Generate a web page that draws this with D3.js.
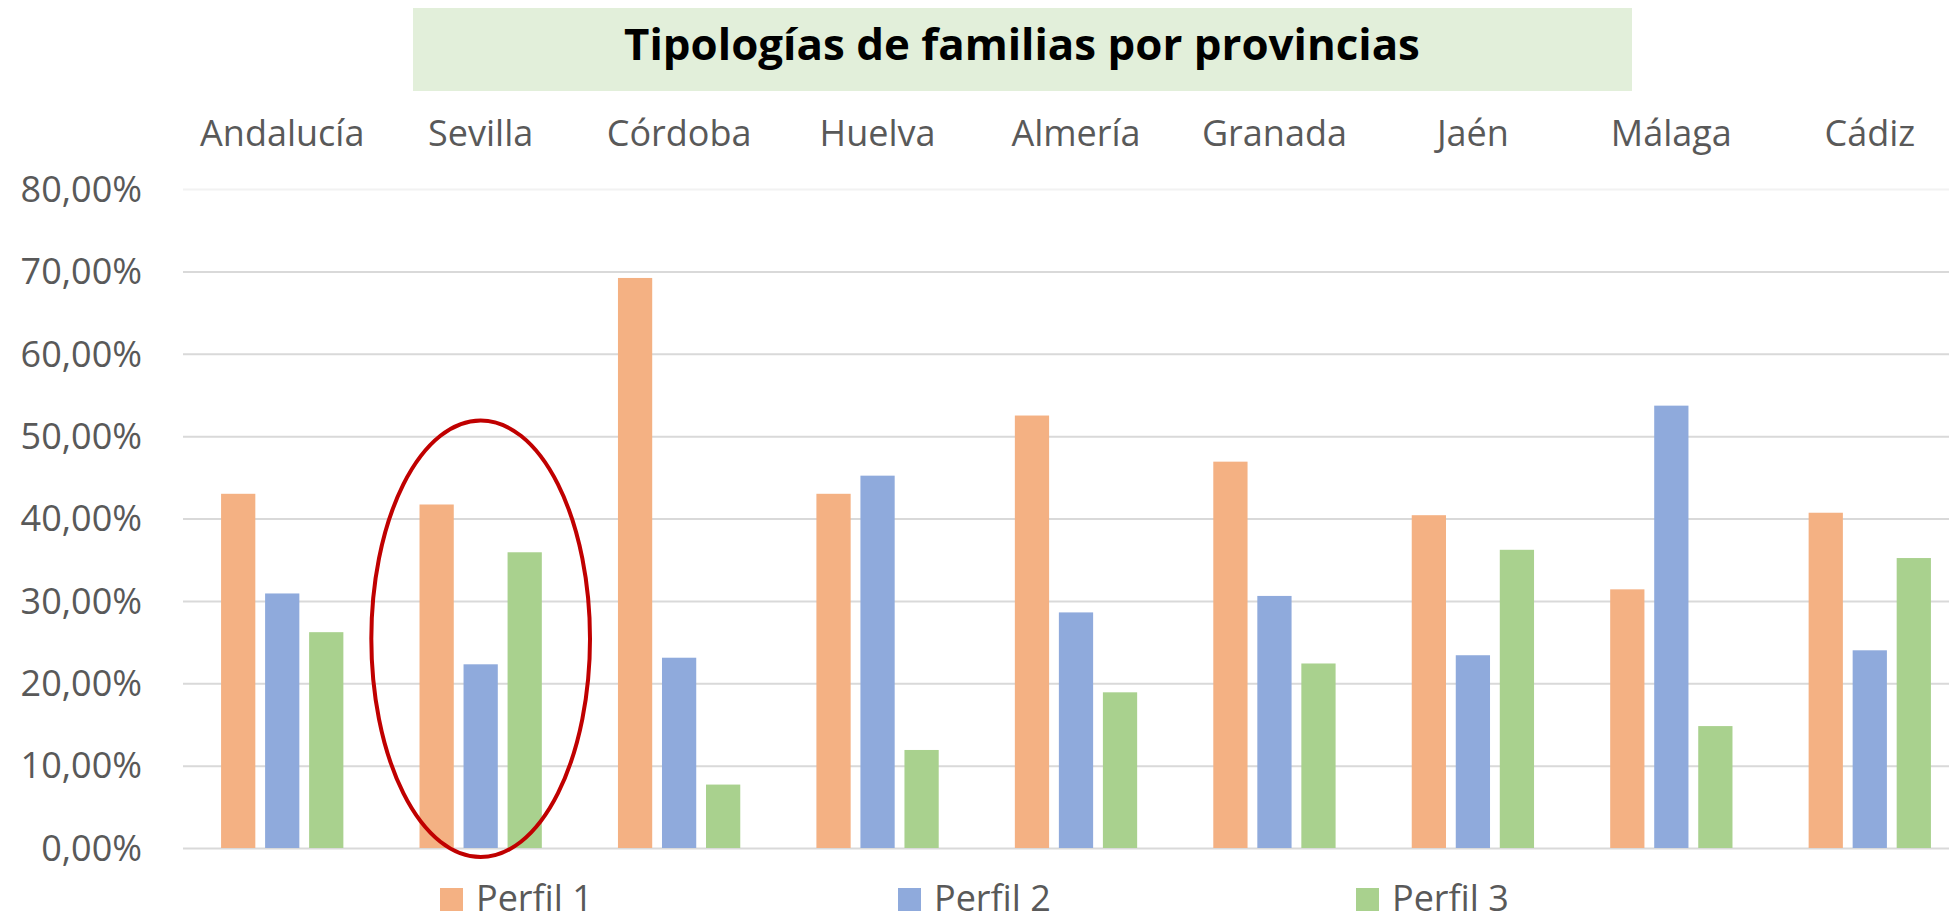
<!DOCTYPE html>
<html>
<head>
<meta charset="utf-8">
<script src="https://cdn.jsdelivr.net/npm/d3@7"></script>
<style>
    body { margin: 0; background: #fff; }
    .chart text { font-family: "Open Sans", "Noto Sans", sans-serif; }
</style>
</head>
<body>
<div class="chart"></div>
<script>
// data
var categories = ["Andalucía", "Sevilla", "Córdoba", "Huelva", "Almería", "Granada", "Jaén", "Málaga", "Cádiz"];
var seriesNames = ["Perfil 1", "Perfil 2", "Perfil 3"];
var perfil1 = [0.430, 0.417, 0.692, 0.430, 0.525, 0.469, 0.404, 0.314, 0.407];
var perfil2 = [0.309, 0.223, 0.231, 0.452, 0.286, 0.306, 0.234, 0.537, 0.240];
var perfil3 = [0.262, 0.359, 0.077, 0.119, 0.189, 0.224, 0.362, 0.148, 0.352];
var yTicks = [0, 0.1, 0.2, 0.3, 0.4, 0.5, 0.6, 0.7, 0.8];
var titleText = "Tipologías de familias por provincias";
// red ring drawn round one group
var highlight = "Sevilla", highlightTop = 0.519, highlightBottom = -0.011;

var colors = ["#f4b183", "#8faadc", "#a9d18e"];
var width = 1949, height = 921;

var svg = d3.select(".chart").append("svg")
    .attr("width", width)
    .attr("height", height);

// scales
var x0 = d3.scaleBand()
    .domain(categories)
    .range([183, 1969])
    .paddingInner(0.3837)
    .paddingOuter(0.19185);

var x1 = d3.scaleBand()
    .domain(seriesNames)
    .range([0, x0.bandwidth()])
    .paddingInner(0.222);

var y = d3.scaleLinear()
    .domain([0, 0.8])
    .range([848, 189]);

var locale = d3.formatLocale({ decimal: ",", thousands: ".", grouping: [3], currency: ["", "€"] });
var fmt = locale.format(".2%");

// title box
svg.append("rect")
    .attr("x", 413).attr("y", 8)
    .attr("width", 1219).attr("height", 83)
    .attr("fill", "#e2efda");

// title is a narrow tall bold face in the original, so squeeze it sideways
var titleG = svg.append("g");
var title = titleG.append("text")
    .attr("x", 0).attr("y", 0)
    .attr("text-anchor", "middle")
    .attr("font-weight", "bold")
    .attr("font-size", 43.5)
    .attr("fill", "#000")
    .text(titleText);
var tw = title.node().getComputedTextLength();
titleG.attr("transform", "translate(1022,60) scale(" + (796 / tw) + ",1)");

// y axis + gridlines
var yAxis = svg.append("g")
    .attr("class", "yAxis")
    .attr("transform", "translate(183,0)")
    .call(d3.axisLeft(y).tickValues(yTicks).tickFormat(fmt)
        .tickSize(-(width - 183)).tickPadding(41));
yAxis.select(".domain").remove();
yAxis.selectAll("line")
    .attr("stroke", (d) => d === 0.8 ? "#f2f2f2" : "#d9d9d9")
    .attr("stroke-width", 2);
yAxis.selectAll("text")
    .attr("font-size", 36)
    .attr("fill", "#595959")
    .attr("dy", "0.34em");

// category labels on top
var xAxis = svg.append("g")
    .attr("class", "xAxis")
    .attr("transform", "translate(0,146)")
    .call(d3.axisTop(x0).tickSize(0).tickPadding(0));
xAxis.select(".domain").remove();
xAxis.selectAll("text")
    .attr("font-size", 36)
    .attr("fill", "#595959")
    .attr("dy", "0");

// bars
var rows = categories.map((c, i) => ({
    cat: c,
    values: [perfil1[i], perfil2[i], perfil3[i]]
}));

var groups = svg.selectAll(".group")
    .data(rows)
    .enter().append("g")
    .attr("class", "group")
    .attr("transform", (d) => "translate(" + x0(d.cat) + ",0)");

groups.selectAll("rect")
    .data((d) => d.values.map((v, j) => ({ s: seriesNames[j], v: v, j: j })))
    .enter().append("rect")
    .attr("x", (d) => x1(d.s))
    .attr("width", x1.bandwidth())
    .attr("y", (d) => y(d.v))
    .attr("height", (d) => y(0) - y(d.v))
    .attr("fill", (d) => colors[d.j]);

// highlight ellipse
svg.append("ellipse")
    .attr("cx", x0(highlight) + x0.bandwidth() / 2)
    .attr("cy", (y(highlightTop) + y(highlightBottom)) / 2)
    .attr("rx", x0.step() * 0.551)
    .attr("ry", (y(highlightBottom) - y(highlightTop)) / 2)
    .attr("fill", "none")
    .attr("stroke", "#c00000")
    .attr("stroke-width", 4);

// legend (kept a few px above the bottom edge so the text isn't clipped)
var legend = svg.selectAll(".legend")
    .data(seriesNames)
    .enter().append("g")
    .attr("class", "legend")
    .attr("transform", (d, i) => "translate(" + (440 + i * 458) + ",0)");

legend.append("rect")
    .attr("x", 0).attr("y", 888)
    .attr("width", 23).attr("height", 23)
    .attr("fill", (d, i) => colors[i]);

legend.append("text")
    .attr("x", 36).attr("y", 911)
    .attr("font-size", 36)
    .attr("fill", "#595959")
    .text((d) => d);
</script>
</body>
</html>
